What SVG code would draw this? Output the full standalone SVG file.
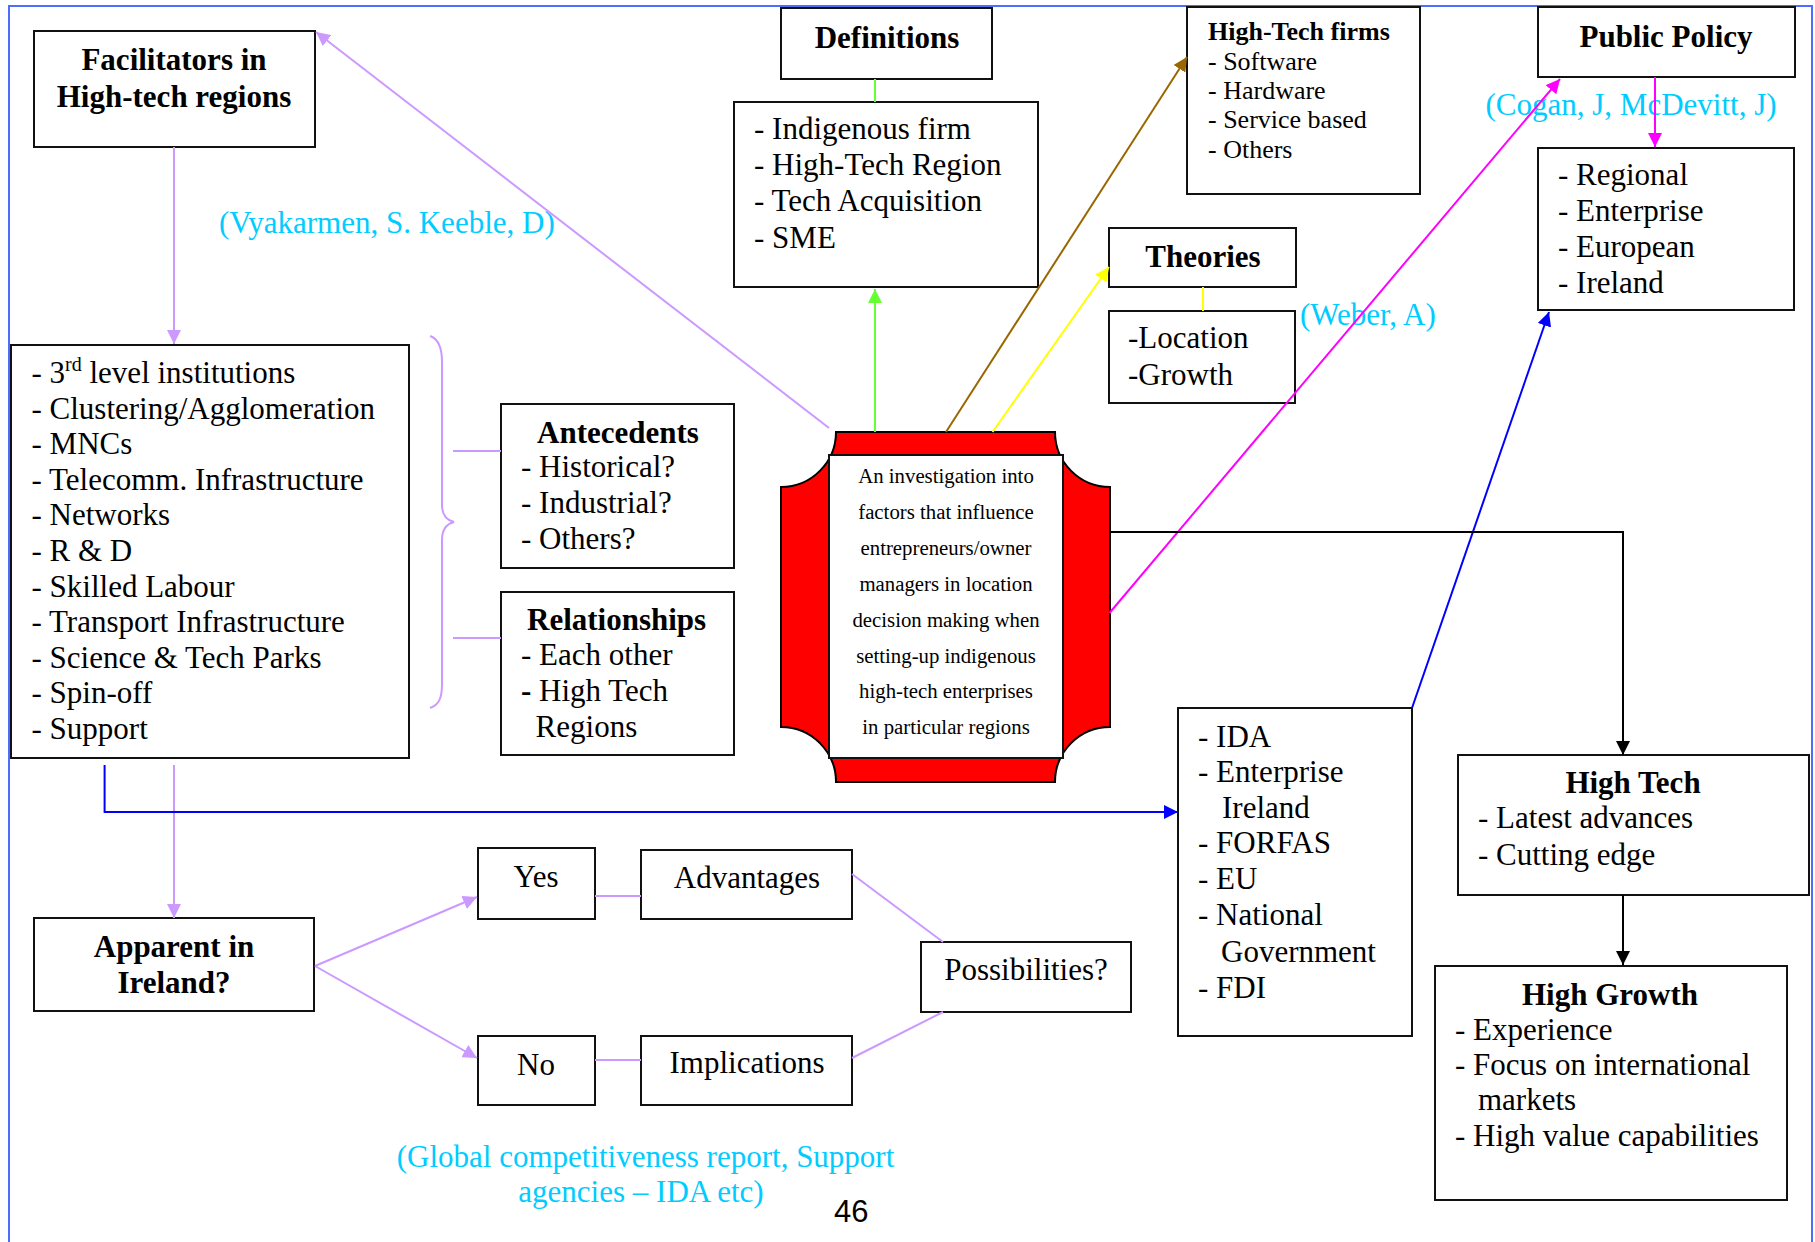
<svg xmlns="http://www.w3.org/2000/svg" width="1815" height="1242" viewBox="0 0 1815 1242">
<style>
.box{fill:#fff;stroke:#111;stroke-width:2}
.t{font-family:"Liberation Serif","Times New Roman",serif;font-size:31px;fill:#000}
.b{font-weight:bold}
.s{font-size:26px}
.m{text-anchor:middle}
.c{font-size:20.8px}
.cy{font-family:"Liberation Serif","Times New Roman",serif;font-size:31px;fill:#00ccff}
.ln{fill:none;stroke-width:2}
.pu{stroke:#cc99ff}
</style>
<defs>
<marker id="aPu" markerUnits="userSpaceOnUse" markerWidth="14" markerHeight="14" refX="14" refY="7" orient="auto"><path d="M0,0L14,7L0,14z" fill="#cc99ff"/></marker>
<marker id="aGr" markerUnits="userSpaceOnUse" markerWidth="14" markerHeight="14" refX="14" refY="7" orient="auto"><path d="M0,0L14,7L0,14z" fill="#66ff33"/></marker>
<marker id="aBr" markerUnits="userSpaceOnUse" markerWidth="14" markerHeight="14" refX="14" refY="7" orient="auto"><path d="M0,0L14,7L0,14z" fill="#996600"/></marker>
<marker id="aYe" markerUnits="userSpaceOnUse" markerWidth="14" markerHeight="14" refX="14" refY="7" orient="auto"><path d="M0,0L14,7L0,14z" fill="#ffff00"/></marker>
<marker id="aMa" markerUnits="userSpaceOnUse" markerWidth="14" markerHeight="14" refX="14" refY="7" orient="auto"><path d="M0,0L14,7L0,14z" fill="#ff00ff"/></marker>
<marker id="aBl" markerUnits="userSpaceOnUse" markerWidth="14" markerHeight="14" refX="14" refY="7" orient="auto"><path d="M0,0L14,7L0,14z" fill="#0000ff"/></marker>
<marker id="aBk" markerUnits="userSpaceOnUse" markerWidth="14" markerHeight="14" refX="14" refY="7" orient="auto"><path d="M0,0L14,7L0,14z" fill="#000"/></marker>
</defs>
<rect x="0" y="0" width="1815" height="1242" fill="#fff"/>
<rect x="9" y="6" width="1803" height="1260" fill="none" stroke="#4d6dff" stroke-width="2"/>

<g id="facilitators">
<rect class="box" x="34" y="31" width="281" height="116"/>
<text class="t b m" x="174" y="70">Facilitators in</text>
<text class="t b m" x="174" y="107">High-tech regions</text>
</g>
<g id="definitions">
<rect class="box" x="781" y="8" width="211" height="71"/>
<text class="t b m" x="887" y="48">Definitions</text>
</g>
<g id="definitions-list">
<rect class="box" x="734" y="102" width="304" height="185"/>
<text class="t" x="754" y="139">- Indigenous firm</text>
<text class="t" x="754" y="175">- High-Tech Region</text>
<text class="t" x="754" y="211">- Tech Acquisition</text>
<text class="t" x="754" y="248">- SME</text>
</g>
<g id="hightech-firms">
<rect class="box" x="1187" y="7" width="233" height="187"/>
<text class="t b s" x="1208" y="40">High-Tech firms</text>
<text class="t s" x="1208" y="70">- Software</text>
<text class="t s" x="1208" y="99">- Hardware</text>
<text class="t s" x="1208" y="128">- Service based</text>
<text class="t s" x="1208" y="158">- Others</text>
</g>
<g id="theories">
<rect class="box" x="1109" y="228" width="187" height="59"/>
<text class="t b m" x="1203" y="267">Theories</text>
</g>
<g id="theories-list">
<rect class="box" x="1109" y="311" width="186" height="92"/>
<text class="t" x="1128" y="348">-Location</text>
<text class="t" x="1128" y="385">-Growth</text>
</g>
<g id="public-policy">
<rect class="box" x="1538" y="7" width="257" height="70"/>
<text class="t b m" x="1666" y="47">Public Policy</text>
</g>
<g id="public-policy-list">
<rect class="box" x="1538" y="148" width="256" height="162"/>
<text class="t" x="1558" y="185">- Regional</text>
<text class="t" x="1558" y="221">- Enterprise</text>
<text class="t" x="1558" y="257">- European</text>
<text class="t" x="1558" y="293">- Ireland</text>
</g>
<g id="facilitators-list">
<rect class="box" x="11" y="345" width="398" height="413"/>
<text class="t" x="31.5" y="383">- 3<tspan font-size="20" dy="-12">rd</tspan><tspan dy="12"> level institutions</tspan></text>
<text class="t" x="31.5" y="418.6">- Clustering/Agglomeration</text>
<text class="t" x="31.5" y="454.2">- MNCs</text>
<text class="t" x="31.5" y="489.8">- Telecomm. Infrastructure</text>
<text class="t" x="31.5" y="525.4">- Networks</text>
<text class="t" x="31.5" y="561">- R &amp; D</text>
<text class="t" x="31.5" y="596.6">- Skilled Labour</text>
<text class="t" x="31.5" y="632.2">- Transport Infrastructure</text>
<text class="t" x="31.5" y="667.8">- Science &amp; Tech Parks</text>
<text class="t" x="31.5" y="703.4">- Spin-off</text>
<text class="t" x="31.5" y="739">- Support</text>
</g>
<g id="antecedents">
<rect class="box" x="501" y="404" width="233" height="164"/>
<text class="t b" x="537" y="443">Antecedents</text>
<text class="t" x="521" y="477">- Historical?</text>
<text class="t" x="521" y="513">- Industrial?</text>
<text class="t" x="521" y="549">- Others?</text>
</g>
<g id="relationships">
<rect class="box" x="501" y="592" width="233" height="163"/>
<text class="t b" x="527" y="630">Relationships</text>
<text class="t" x="521" y="665">- Each other</text>
<text class="t" x="521" y="701"><tspan font-weight="bold">-</tspan> High Tech</text>
<text class="t" x="535.6" y="737">Regions</text>
</g>
<g id="investigation">
<path d="M836,432L1055,432A55,55 0 0 0 1110,487L1110,727A55,55 0 0 0 1055,782L836,782A55,55 0 0 0 781,727L781,487A55,55 0 0 0 836,432Z" fill="#ff0000" stroke="#000" stroke-width="2"/>
<rect class="box" x="829" y="455" width="234" height="303"/>
<text class="t c m" x="946" y="483">An investigation into</text>
<text class="t c m" x="946" y="519">factors that influence</text>
<text class="t c m" x="946" y="555">entrepreneurs/owner</text>
<text class="t c m" x="946" y="591">managers in location</text>
<text class="t c m" x="946" y="627">decision making when</text>
<text class="t c m" x="946" y="663">setting-up  indigenous</text>
<text class="t c m" x="946" y="698">high-tech  enterprises</text>
<text class="t c m" x="946" y="734">in particular  regions</text>
</g>
<g id="agencies">
<rect class="box" x="1178" y="708" width="234" height="328"/>
<text class="t" x="1198" y="747">- IDA</text>
<text class="t" x="1198" y="782">- Enterprise</text>
<text class="t" x="1222" y="818">Ireland</text>
<text class="t" x="1198" y="853">- FORFAS</text>
<text class="t" x="1198" y="889">- EU</text>
<text class="t" x="1198" y="925">- National</text>
<text class="t" x="1221" y="962">Government</text>
<text class="t" x="1198" y="998">- FDI</text>
</g>
<g id="high-tech">
<rect class="box" x="1458" y="755" width="351" height="140"/>
<text class="t b m" x="1633" y="793">High Tech</text>
<text class="t" x="1478" y="828">- Latest advances</text>
<text class="t" x="1478" y="865">- Cutting edge</text>
</g>
<g id="high-growth">
<rect class="box" x="1435" y="966" width="352" height="234"/>
<text class="t b m" x="1610" y="1005">High Growth</text>
<text class="t" x="1455" y="1040">- Experience</text>
<text class="t" x="1455" y="1075">- Focus on international</text>
<text class="t" x="1478" y="1110">markets</text>
<text class="t" x="1455" y="1146">- High value capabilities</text>
</g>
<g id="apparent">
<rect class="box" x="34" y="918" width="280" height="93"/>
<text class="t b m" x="174" y="957">Apparent in</text>
<text class="t b m" x="174" y="993">Ireland?</text>
</g>
<g id="yes">
<rect class="box" x="478" y="848" width="117" height="71"/>
<text class="t m" x="536" y="887">Yes</text>
</g>
<g id="no">
<rect class="box" x="478" y="1036" width="117" height="69"/>
<text class="t m" x="536" y="1075">No</text>
</g>
<g id="advantages">
<rect class="box" x="641" y="850" width="211" height="69"/>
<text class="t m" x="747" y="888">Advantages</text>
</g>
<g id="implications">
<rect class="box" x="641" y="1036" width="211" height="69"/>
<text class="t m" x="747" y="1073">Implications</text>
</g>
<g id="possibilities">
<rect class="box" x="921" y="942" width="210" height="70"/>
<text class="t m" x="1026" y="980">Possibilities?</text>
</g>

<g id="labels">
<text class="cy" x="219" y="233">(Vyakarmen, S. Keeble, D)</text>
<text class="cy" x="1300" y="325">(Weber, A)</text>
<text class="cy" x="1485.5" y="115">(Cogan, J, McDevitt, J)</text>
<text class="cy m" x="645.5" y="1167">(Global competitiveness report, Support</text>
<text class="cy m" x="641" y="1202">agencies – IDA etc)</text>
<text x="834" y="1222" font-family="'Liberation Sans',Arial,sans-serif" font-size="31" fill="#000">46</text>
</g>

<g id="connectors">
<path class="ln pu" d="M174,147L174,344" marker-end="url(#aPu)"/>
<path class="ln pu" d="M829,428L316,32" marker-end="url(#aPu)"/>
<path class="ln pu" d="M430,336C439,339 442,348 442,362L442,505C442,515 446,520 454,522C446,524 442,529 442,540L442,684C442,698 439,705 430,708"/>
<path class="ln pu" d="M453,451L501,451M453,638L501,638"/>
<path class="ln pu" d="M174,765L174,918" marker-end="url(#aPu)"/>
<path class="ln pu" d="M315,966L477,897" marker-end="url(#aPu)"/>
<path class="ln pu" d="M315,966L477,1058" marker-end="url(#aPu)"/>
<path class="ln pu" d="M595,896L641,896M595,1060L641,1060"/>
<path class="ln pu" d="M852,874L943,942M852,1058L943,1012"/>
<path class="ln" stroke="#66ff33" d="M875,79L875,102"/>
<path class="ln" stroke="#66ff33" d="M875,432L875,289" marker-end="url(#aGr)"/>
<path class="ln" stroke="#996600" d="M946,432L1187,57" marker-end="url(#aBr)"/>
<path class="ln" stroke="#ffff00" d="M992.5,432L1109,267" marker-end="url(#aYe)"/>
<path class="ln" stroke="#ffff00" d="M1203,287L1203,311"/>
<path class="ln" stroke="#ff00ff" d="M1109.5,613L1560,79" marker-end="url(#aMa)"/>
<path class="ln" stroke="#ff00ff" d="M1655,77L1655,147" marker-end="url(#aMa)"/>
<path class="ln" stroke="#0000ff" d="M1412,708L1549,312" marker-end="url(#aBl)"/>
<path class="ln" stroke="#0000ff" d="M104.6,765L104.6,812L1178,812" marker-end="url(#aBl)"/>
<path class="ln" stroke="#000" d="M1110,532L1623,532L1623,755" marker-end="url(#aBk)"/>
<path class="ln" stroke="#000" d="M1623,895L1623,965" marker-end="url(#aBk)"/>
</g>
</svg>
